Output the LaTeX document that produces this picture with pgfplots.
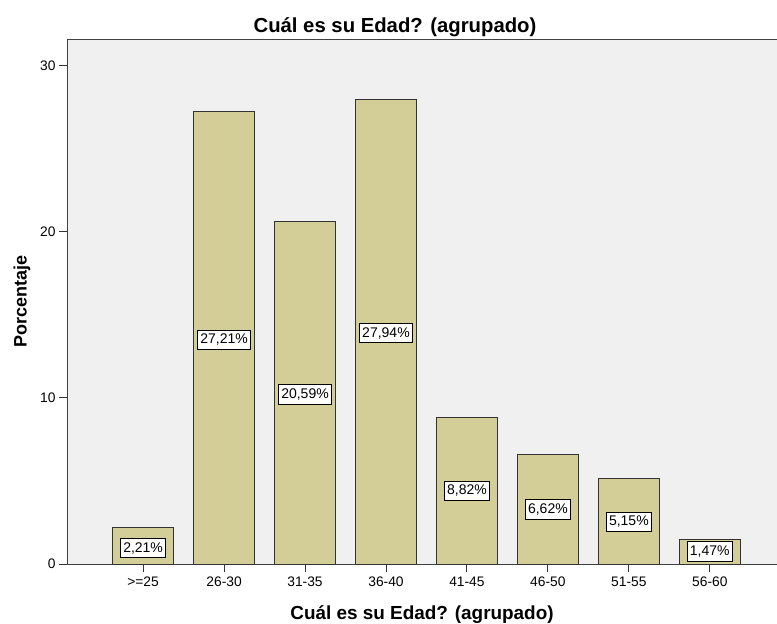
\documentclass[border=0pt]{standalone}
\usepackage{pgfplots}
\pgfplotsset{compat=1.18}
\usepackage{fontspec}
\setmainfont{Liberation Sans}
\definecolor{barfill}{RGB}{211,206,151}
\definecolor{bg}{RGB}{240,240,240}
\begin{document}
\begin{tikzpicture}[x=1pt,y=1pt]
\begin{axis}[
  name=ax,
  scale only axis,
  width=710pt, height=525pt,
  xmin=-0.94, xmax=7.83,
  ymin=0, ymax=31.6,
  axis background/.style={fill=bg},
  axis line style={draw=black!75, line width=0.8pt},
  xtick={0,1,2,3,4,5,6,7},
  xticklabels={>=25,26-30,31-35,36-40,41-45,46-50,51-55,56-60},
  ytick={0,10,20,30},
  tick align=outside,
  tick pos=left,
  major tick length=8pt,
  tick style={black!80, line width=0.9pt},
  /pgf/number format/assume math mode=true,
  tick label style={font=\fontsize{13.8}{16}\selectfont},
  xticklabel style={yshift=-1pt},
  title={\textbf{Cuál es su Edad? (agrupado)}},
  title style={font=\fontsize{20.3}{24}\selectfont, yshift=-7pt, xshift=-27pt},
  xlabel={\textbf{Cuál es su Edad? (agrupado)}},
  xlabel style={font=\fontsize{18.9}{22}\selectfont, yshift=-12pt},
  ylabel={\textbf{Porcentaje}},
  ylabel style={font=\fontsize{18}{21}\selectfont, yshift=3pt},
  clip=false,
]
\addplot[ybar, bar width=61pt, fill=barfill, draw=black!80, line width=0.9pt]
  coordinates {(0,2.21) (1,27.21) (2,20.59) (3,27.94) (4,8.82) (5,6.62) (6,5.15) (7,1.47)};
\addplot[only marks, mark=none, draw=none,
  point meta=explicit symbolic,
  nodes near coords={\pgfplotspointmeta\%},
  every node near coord/.style={anchor=center, fill=white, draw=black, line width=0.7pt,
    inner xsep=2.5pt, inner ysep=4pt, font=\fontsize{14}{16}\selectfont}]
  coordinates {(0,0.96)[2,21] (1,13.5)[27,21] (2,10.2)[20,59] (3,13.9)[27,94]
    (4,4.4)[8,82] (5,3.3)[6,62] (6,2.55)[5,15] (7,0.75)[1,47]};
\end{axis}
\pgfresetboundingbox
\path (ax.south west) ++(-67pt,-59pt) coordinate (bl);
\path (ax.north east) ++(0pt,39pt) coordinate (tr);
\useasboundingbox (bl) rectangle (tr);
\end{tikzpicture}
\end{document}
